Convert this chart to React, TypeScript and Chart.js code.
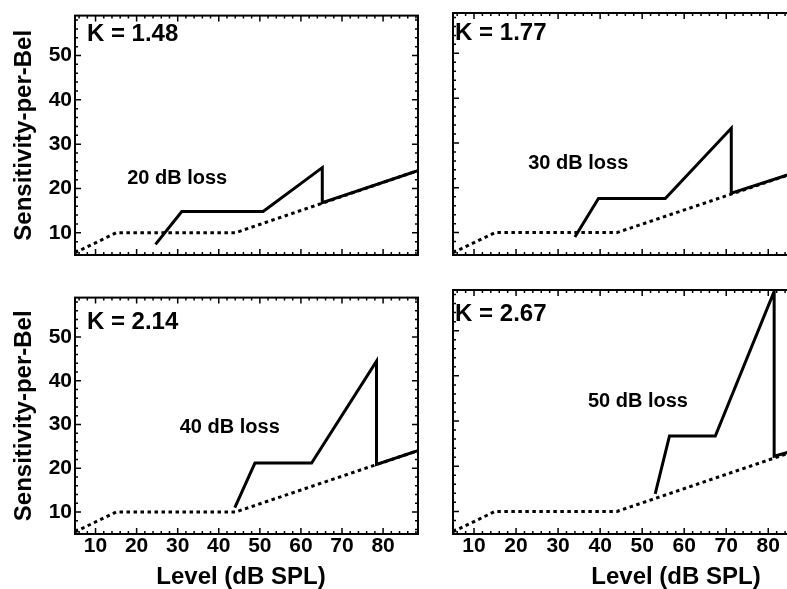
import React, { useEffect, useRef } from "react";
import { Chart, registerables } from "chart.js";

Chart.register(...registerables);

// ---- data ----
const baselineLevels = [5, 15, 44, 89];
const baselineSensitivity = [5.5, 10, 10, 24.2];

const loss20Levels = [24.6, 31, 50.8, 65.2, 65.2, 89];
const loss20Sensitivity = [7.4, 14.8, 14.8, 24.7, 16.8, 24.2];
const loss30Levels = [34, 39.6, 55.5, 71.2, 71.2, 89];
const loss30Sensitivity = [9.0, 17.6, 17.6, 33.3, 18.8, 24.2];
const loss40Levels = [43.9, 48.8, 62.6, 78.4, 78.4, 89];
const loss40Sensitivity = [11, 21.2, 21.2, 44.5, 20.9, 24.2];
const loss50Levels = [53.1, 56.5, 67.4, 81.4, 81.4, 89];
const loss50Sensitivity = [13.9, 26.7, 26.7, 58.7, 22.2, 24.2];

const kLabels = ["K = 1.48", "K = 1.77", "K = 2.14", "K = 2.67"];
const lossLabels = ["20 dB loss", "30 dB loss", "40 dB loss", "50 dB loss"];

const xTickValues = [10, 20, 30, 40, 50, 60, 70, 80];
const yTickValues = [10, 20, 30, 40, 50];

const X_MIN = 5;
const X_MAX = 88.5;
const Y_MIN = 5;
const Y_MAX = 59;

const FONT = '"Liberation Sans", Arial, Helvetica, sans-serif';

const toPoints = (xs: number[], ys: number[]) => xs.map((x, i) => ({ x, y: ys[i] }));

type Panel = {
  left: number; top: number; width: number; height: number;
  padTop: number; padRight: number; yWidth: number; xHeight: number;
  showYLabels: boolean; showXLabels: boolean;
  levels: number[]; sens: number[];
  k: string; kX: number; kY: number;
  loss: string; lossX: number; lossY: number;
  xTitleX: number; xTitleY: number;
};

const panels: Panel[] = [
  {
    left: 0, top: 0, width: 420, height: 282, padTop: 13, padRight: 2, yWidth: 75, xHeight: 27,
    showYLabels: true, showXLabels: false, levels: loss20Levels, sens: loss20Sensitivity,
    k: kLabels[0], kX: 7.9, kY: 54.7, loss: lossLabels[0], lossX: 17.7, lossY: 22.2,
    xTitleX: 0, xTitleY: 0,
  },
  {
    left: 420, top: 0, width: 386, height: 282, padTop: 13, padRight: 2, yWidth: 33, xHeight: 27,
    showYLabels: false, showXLabels: false, levels: loss30Levels, sens: loss30Sensitivity,
    k: kLabels[1], kX: 5.5, kY: 54.5, loss: lossLabels[1], lossX: 22.9, lossY: 25.5,
    xTitleX: 0, xTitleY: 0,
  },
  {
    left: 0, top: 282, width: 420, height: 307, padTop: 8, padRight: 2, yWidth: 75, xHeight: 55,
    showYLabels: true, showXLabels: true, levels: loss40Levels, sens: loss40Sensitivity,
    k: kLabels[2], kX: 7.9, kY: 53.4, loss: lossLabels[2], lossX: 30.5, lossY: 29.3,
    xTitleX: 241, xTitleY: 295,
  },
  {
    left: 420, top: 282, width: 386, height: 307, padTop: 8, padRight: 2, yWidth: 33, xHeight: 55,
    showYLabels: false, showXLabels: true, levels: loss50Levels, sens: loss50Sensitivity,
    k: kLabels[3], kX: 5.5, kY: 53.5, loss: lossLabels[3], lossX: 37.1, lossY: 34.4,
    xTitleX: 256, xTitleY: 295,
  },
];

function makeFramePlugin(p: Panel) {
  return {
    id: "frameAndText",
    afterDatasetsDraw(chart: any) {
      const { ctx, chartArea: a, scales } = chart;
      const x = scales.x;
      const y = scales.y;
      ctx.save();
      ctx.strokeStyle = "#000";
      ctx.lineWidth = 2;
      ctx.strokeRect(a.left, a.top, a.right - a.left, a.bottom - a.top);
      ctx.lineWidth = 1.5;
      ctx.beginPath();
      for (let v = Math.ceil(x.min / 2) * 2; v <= x.max; v += 2) {
        const px = x.getPixelForValue(v);
        const len = v % 10 === 0 ? 6 : 3;
        ctx.moveTo(px, a.bottom);
        ctx.lineTo(px, a.bottom - len);
        ctx.moveTo(px, a.top);
        ctx.lineTo(px, a.top + len);
      }
      for (let v = Math.ceil(y.min / 2) * 2; v <= y.max; v += 2) {
        const py = y.getPixelForValue(v);
        const len = v % 10 === 0 ? 6 : 3;
        ctx.moveTo(a.left, py);
        ctx.lineTo(a.left + len, py);
        ctx.moveTo(a.right, py);
        ctx.lineTo(a.right - len, py);
      }
      ctx.stroke();

      ctx.fillStyle = "#000";
      ctx.textAlign = "left";
      ctx.textBaseline = "middle";
      ctx.font = `bold 24px ${FONT}`;
      ctx.fillText(p.k, x.getPixelForValue(p.kX), y.getPixelForValue(p.kY));
      ctx.font = `bold 20px ${FONT}`;
      ctx.fillText(p.loss, x.getPixelForValue(p.lossX), y.getPixelForValue(p.lossY));
      if (p.showXLabels) {
        ctx.font = `bold 24px ${FONT}`;
        ctx.textAlign = "center";
        ctx.fillText("Level (dB SPL)", p.xTitleX, p.xTitleY);
      }
      ctx.restore();
    },
  };
}

function PanelChart({ p }: { p: Panel }) {
  const ref = useRef<HTMLCanvasElement>(null);
  useEffect(() => {
    if (!ref.current) return;
    const chart = new Chart(ref.current, {
      type: "line",
      data: {
        datasets: [
          {
            data: toPoints(baselineLevels, baselineSensitivity),
            borderColor: "#000",
            borderWidth: 3,
            borderDash: [3.5, 3.5],
            pointRadius: 0,
            tension: 0,
            fill: false,
          },
          {
            data: toPoints(p.levels, p.sens),
            borderColor: "#000",
            borderWidth: 3,
            pointRadius: 0,
            tension: 0,
            fill: false,
            borderJoinStyle: "miter",
          },
        ],
      },
      options: {
        responsive: false,
        animation: false,
        events: [],
        layout: { padding: { top: p.padTop, right: p.padRight, left: 0, bottom: 0 } },
        plugins: { legend: { display: false }, tooltip: { enabled: false }, title: { display: false } },
        scales: {
          x: {
            type: "linear",
            min: X_MIN,
            max: X_MAX,
            grid: { display: false, drawTicks: false },
            border: { display: false },
            ticks: {
              display: p.showXLabels,
              color: "#000",
              padding: 0,
              maxRotation: 0,
              font: { family: FONT, size: 21, weight: "bold" },
            },
            afterBuildTicks: (s: any) => {
              s.ticks = xTickValues.map((v) => ({ value: v }));
            },
            afterFit: (s: any) => {
              s.height = p.xHeight;
            },
          },
          y: {
            type: "linear",
            min: Y_MIN,
            max: Y_MAX,
            grid: { display: false, drawTicks: false },
            border: { display: false },
            ticks: {
              display: p.showYLabels,
              color: "#000",
              padding: 3,
              font: { family: FONT, size: 21, weight: "bold" },
            },
            title: {
              display: p.showYLabels,
              text: "Sensitivity-per-Bel",
              color: "#000",
              padding: { top: 12, bottom: 0 },
              font: { family: FONT, size: 24, weight: "bold", lineHeight: 1 },
            },
            afterBuildTicks: (s: any) => {
              s.ticks = yTickValues.map((v) => ({ value: v }));
            },
            afterFit: (s: any) => {
              s.width = p.yWidth;
            },
          },
        },
      },
      plugins: [makeFramePlugin(p)],
    } as any);
    return () => chart.destroy();
  }, [p]);
  return (
    <canvas
      ref={ref}
      width={p.width}
      height={p.height}
      style={{ position: "absolute", left: p.left, top: p.top, width: p.width, height: p.height }}
    />
  );
}

export default function App() {
  return (
    <div
      style={{
        position: "fixed",
        left: 0,
        top: 0,
        width: 787,
        height: 589,
        overflow: "hidden",
        background: "#fff",
      }}
    >
      {panels.map((p, i) => (
        <PanelChart key={i} p={p} />
      ))}
    </div>
  );
}
